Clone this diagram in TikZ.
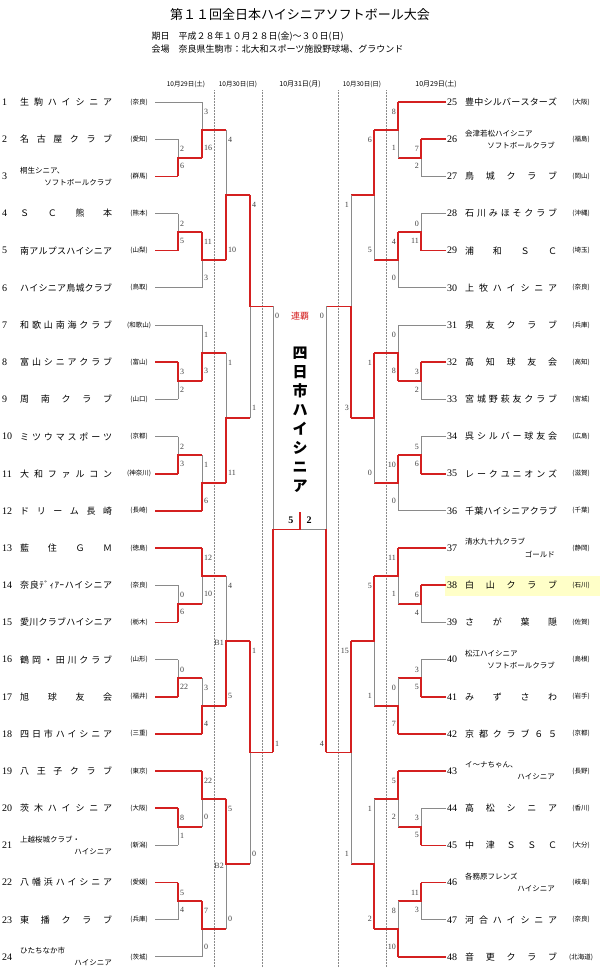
\documentclass[tikz,border=0pt]{standalone}
\usepackage{fontspec}
\setmainfont{Noto Sans CJK JP}
\newfontfamily\numf{Liberation Serif}
\definecolor{winred}{HTML}{D42020}
\definecolor{losegray}{HTML}{8A8A8A}
\definecolor{hilite}{HTML}{FFFFC8}
\tikzset{
  win/.style={draw=winred, line width=1.6pt},
  lose/.style={draw=losegray, line width=0.9pt},
  score/.style={font=\numf\fontsize{8}{8}\selectfont, text=black!75, inner sep=0pt},
  tnum/.style={font=\numf\fontsize{10}{10}\selectfont, anchor=west, inner sep=0pt},
  tname/.style={font=\fontsize{9}{9}\selectfont, anchor=west, inner sep=0pt},
  tsmall/.style={font=\fontsize{7.5}{7.5}\selectfont, anchor=west, inner sep=0pt},
  pref/.style={font=\fontsize{6.5}{6.5}\selectfont, inner sep=0pt},
  datehd/.style={font=\fontsize{6.5}{6.5}\selectfont, inner sep=0pt}
}
% spread characters over a fixed width
\def\spread#1{\spreadi#1\relax}
\def\spreadi#1#2{#1\ifx\relax#2\else\hfil\expandafter\spreadi\expandafter#2\fi}
\newcommand\nm[1]{\makebox[92pt][s]{\expandafter\spread\expandafter{#1}}}
% one match: x, top y, bottom y, x out, top score, bottom score, winner (1/2), side
\newcommand\match[8]{%
  \pgfmathsetmacro\mmid{(#2+#3)/2}
  \draw[lose] (#1,#2) -- (#1,#3);
  \ifnum#7=1 \draw[win] (#1,#2) -- (#1,\mmid) -- (#4,\mmid);
  \else \draw[win] (#1,#3) -- (#1,\mmid) -- (#4,\mmid);\fi
  \ifx L#8
    \node[score, anchor=west] at (#1+2,#2+10) {#5};
    \node[score, anchor=west] at (#1+2,#3-10) {#6};
  \else
    \node[score, anchor=east] at (#1-2,#2+10) {#5};
    \node[score, anchor=east] at (#1-2,#3-10) {#6};
  \fi}
% group of three: side, top row, pattern (l/u), pair scores, pair winner, group scores, group winner
\newcommand\grp[9]{%
  \ifx L#1 \def\xt{155}\def\xp{178}\def\xg{202}\def\xq{226}%
  \else \def\xt{446}\def\xp{421}\def\xg{398}\def\xq{374}\fi
  \pgfmathsetmacro\ya{102+mod(#2-1,24)*37.17}
  \pgfmathsetmacro\yb{\ya+37.17}
  \pgfmathsetmacro\yc{\ya+74.34}
  \if l#3 \let\pa\yb \let\pb\yc \let\ys\ya
  \else \let\pa\ya \let\pb\yb \let\ys\yc \fi
  \pgfmathsetmacro\pmid{(\pa+\pb)/2}
  \draw[lose] (\xt,\pa) -- (\xp,\pa) (\xt,\pb) -- (\xp,\pb) (\xt,\ys) -- (\xg,\ys);
  \ifnum#6=1 \draw[win] (\xt,\pa) -- (\xp,\pa); \else \draw[win] (\xt,\pb) -- (\xp,\pb); \fi
  \match{\xp}{\pa}{\pb}{\xg}{#4}{#5}{#6}{#1}
  \if l#3
    \ifnum#9=1 \draw[win] (\xt,\ys) -- (\xg,\ys); \fi
    \match{\xg}{\ys}{\pmid}{\xq}{#7}{#8}{#9}{#1}
  \else
    \ifnum#9=2 \draw[win] (\xt,\ys) -- (\xg,\ys); \fi
    \match{\xg}{\pmid}{\ys}{\xq}{#7}{#8}{#9}{#1}
  \fi}
\begin{document}
\begin{tikzpicture}[x=1pt, y=-1pt]
  \useasboundingbox (0,0) rectangle (600,967);
  \fill[hilite] (445,576) rectangle (600,596);
  % heading
  \node[font=\fontsize{13}{13}\selectfont] (title) at (300,15) {第１１回全日本ハイシニアソフトボール大会};
  \node[font=\fontsize{9}{9}\selectfont, anchor=west] (date) at (148,37) {期日\quad 平成２８年１０月２８日(金)～３０日(日)};
  \node[font=\fontsize{9}{9}\selectfont, anchor=west] (place) at (148,49) {会場\quad 奈良県生駒市：北大和スポーツ施設野球場、グラウンド};
  \node[datehd] (d1) at (186,84) {10月29日(土)};
  \node[datehd] (d2) at (238,84) {10月30日(日)};
  \node[datehd, font=\fontsize{7}{7}\selectfont] (d3) at (300,84) {10月31日(月)};
  \node[datehd] (d4) at (362,84) {10月30日(日)};
  \node[datehd, font=\fontsize{7}{7}\selectfont] (d5) at (436,84) {10月29日(土)};
  \foreach \x in {214,262,338,386}
    \draw[densely dotted, losegray, line width=0.5pt] (\x,90) -- (\x,967);
  % teams, left
  \foreach \i/\t/\p in {1/生駒ハイシニア/奈良, 2/名古屋クラブ/愛知, 4/ＳＣ熊本/熊本,
      5/南アルプスハイシニア/山梨, 6/ハイシニア鳥城クラブ/鳥取, 7/和歌山南海クラブ/和歌山,
      8/富山シニアクラブ/富山, 9/周南クラブ/山口, 10/ミツウマスポーツ/京都,
      11/大和ファルコン/神奈川, 12/ドリーム長崎/長崎, 13/藍住ＧＭ/徳島,
      14/奈良ﾃﾞｨｱｰハイシニア/奈良, 15/愛川クラブハイシニア/栃木, 16/鶴岡・田川クラブ/山形,
      17/旭球友会/福井, 18/四日市ハイシニア/三重, 19/八王子クラブ/東京,
      20/茨木ハイシニア/大阪, 22/八幡浜ハイシニア/愛媛, 23/東播クラブ/兵庫} {
    \pgfmathsetmacro\yy{102+(\i-1)*37.17}
    \node[tnum] (n\i) at (2,\yy) {\i};
    \node[tname] (t\i) at (20,\yy) {\nm{\t}};
    \node[pref] (p\i) at (139,\yy) {(\p)};
  }
  \foreach \i/\a/\b/\p in {3/桐生シニア、/ソフトボールクラブ/群馬, 21/上越桜城クラブ・/ハイシニア/新潟,
      24/ひたちなか市/ハイシニア/茨城} {
    \pgfmathsetmacro\yy{102+(\i-1)*37.17}
    \node[tnum] (n\i) at (2,\yy) {\i};
    \node[tsmall] (t\i) at (20,\yy-6) {\a};
    \node[tsmall, anchor=east] (u\i) at (112,\yy+6) {\b};
    \node[pref] (p\i) at (139,\yy) {(\p)};
  }
  % teams, right
  \foreach \i/\t/\p in {25/豊中シルバースターズ/大阪, 27/鳥城クラブ/岡山, 28/石川みほそクラブ/沖縄,
      29/浦和ＳＣ/埼玉, 30/上牧ハイシニア/奈良, 31/泉友クラブ/兵庫, 32/高知球友会/高知,
      33/宮城野萩友クラブ/宮城, 34/呉シルバー球友会/広島, 35/レークユニオンズ/滋賀,
      36/千葉ハイシニアクラブ/千葉, 38/白山クラブ/石川, 39/さが葉隠/佐賀, 41/みずさわ/岩手,
      42/京都クラブ６５/京都, 44/高松シニア/香川, 45/中津ＳＳＣ/大分, 47/河合ハイシニア/奈良,
      48/音更クラブ/北海道} {
    \pgfmathsetmacro\yy{102+(\i-25)*37.17}
    \node[tnum] (n\i) at (447,\yy) {\i};
    \node[tname] (t\i) at (465,\yy) {\nm{\t}};
    \node[pref] (p\i) at (581,\yy) {(\p)};
  }
  \foreach \i/\a/\b/\p in {26/会津若松ハイシニア/ソフトボールクラブ/福島, 37/清水九十九クラブ/ゴールド/静岡,
      40/松江ハイシニア/ソフトボールクラブ/島根, 43/イ～ナちゃん、/ハイシニア/長野,
      46/各務原フレンズ/ハイシニア/岐阜} {
    \pgfmathsetmacro\yy{102+(\i-25)*37.17}
    \node[tnum] (n\i) at (447,\yy) {\i};
    \node[tsmall] (t\i) at (465,\yy-6) {\a};
    \node[tsmall, anchor=east] (u\i) at (555,\yy+6) {\b};
    \node[pref] (p\i) at (581,\yy) {(\p)};
  }
  % first rounds
  \grp{L}{1}{l}{2}{6}{2}{3}{16}{2}
  \grp{L}{4}{u}{2}{5}{2}{11}{3}{1}
  \grp{L}{7}{l}{3}{2}{1}{1}{3}{2}
  \grp{L}{10}{u}{2}{3}{2}{1}{6}{2}
  \grp{L}{13}{l}{0}{6}{2}{12}{10}{1}
  \grp{L}{16}{u}{0}{22}{2}{3}{4}{2}
  \grp{L}{19}{l}{8}{1}{1}{22}{0}{1}
  \grp{L}{22}{u}{5}{4}{1}{7}{0}{1}
  \grp{R}{25}{l}{7}{2}{1}{8}{1}{1}
  \grp{R}{28}{u}{0}{11}{2}{4}{0}{1}
  \grp{R}{31}{l}{3}{2}{1}{0}{8}{2}
  \grp{R}{34}{u}{5}{6}{2}{10}{0}{1}
  \grp{R}{37}{l}{6}{4}{1}{11}{1}{1}
  \grp{R}{40}{u}{3}{5}{2}{0}{7}{2}
  \grp{R}{43}{l}{3}{5}{2}{5}{2}{1}
  \grp{R}{46}{u}{11}{3}{1}{8}{10}{2}
  % quarter finals
  \match{226}{129.9}{259.9}{250}{4}{10}{2}{L}
  \match{226}{352.9}{482.9}{250}{1}{11}{2}{L}
  \match{226}{575.9}{705.9}{250}{4}{5}{2}{L}
  \match{226}{798.9}{928.9}{250}{5}{0}{1}{L}
  \match{374}{129.9}{259.9}{351}{6}{5}{1}{R}
  \match{374}{352.9}{482.9}{351}{1}{0}{1}{R}
  \match{374}{575.9}{705.9}{351}{5}{1}{1}{R}
  \match{374}{798.9}{928.9}{351}{1}{2}{2}{R}
  \node[score, anchor=east] (b1) at (224,643) {B1};
  \node[score, anchor=east] (b2) at (224,866) {B2};
  % semi finals
  \match{250}{194.9}{417.9}{273}{4}{1}{1}{L}
  \match{250}{640.9}{863.9}{273}{1}{0}{1}{L}
  \match{351}{194.9}{417.9}{326}{1}{3}{2}{R}
  \match{351}{640.9}{863.9}{326}{15}{1}{1}{R}
  % final
  \draw[lose] (273,306.4) -- (273,529.4) -- (326,529.4) -- (326,306.4);
  \draw[win] (273,752.4) -- (273,529.4) -- (300,529.4) -- (300,512);
  \draw[win] (326,752.4) -- (326,529.4);
  \node[score, anchor=west] (f1) at (275,316) {0};
  \node[score, anchor=west] (f2) at (275,744) {1};
  \node[score, anchor=east] (f3) at (324,316) {0};
  \node[score, anchor=east] (f4) at (324,744) {4};
  \node[font=\numf\bfseries\fontsize{10}{10}\selectfont, anchor=east] (fs1) at (297,520) {5};
  \node[font=\numf\bfseries\fontsize{10}{10}\selectfont, anchor=west] (fs2) at (303,520) {2};
  \node[text=winred, font=\fontsize{9}{9}\selectfont] (rep) at (300,316) {連覇};
  \node[font=\bfseries\fontsize{15}{19}\selectfont, align=center] (champ) at (300,420)
    {四\\日\\市\\ハ\\イ\\シ\\ニ\\ア};
\end{tikzpicture}
\end{document}
